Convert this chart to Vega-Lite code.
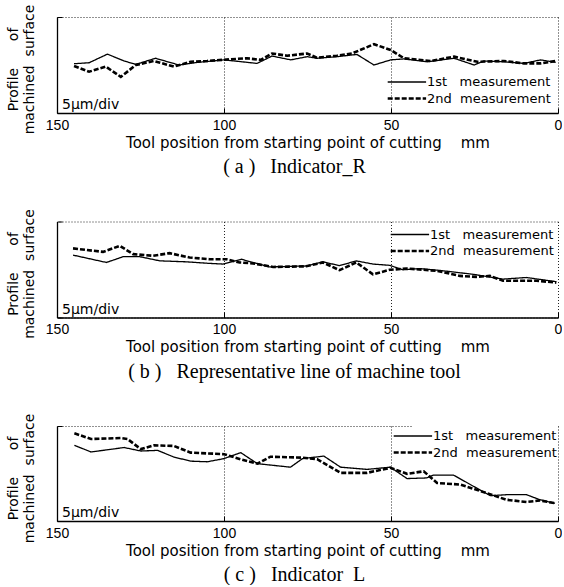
{
  "$schema": "https://vega.github.io/schema/vega-lite/v6.json",
  "padding": {"left": 6, "top": 4, "right": 0, "bottom": 0},
  "background": "white",
  "config": {
    "view": {"stroke": null},
    "font": "Liberation Sans",
    "axis": {
      "grid": true, "gridDash": [1, 2], "gridColor": "#222", "gridWidth": 1,
      "domainColor": "black", "domainWidth": 1.3, "tickColor": "black", "tickSize": -5,
      "labelFont": "Liberation Sans", "labelFontSize": 14, "labelColor": "black", "labelFlush": false,
      "titleFont": "DejaVu Sans", "titleFontSize": 14,
      "titleFontWeight": "normal", "titleColor": "black"
    },
    "legend": {
      "title": null, "fillColor": "white", "labelFont": "DejaVu Sans", "labelFontSize": 13, "labelColor": "black",
      "symbolStrokeColor": "black", "rowPadding": -2, "padding": 1, "labelOffset": 1
    },
    "title": {"font": "Liberation Serif", "fontSize": 20, "fontWeight": "normal", "color": "black", "orient": "bottom", "frame": "group", "anchor": "middle", "offset": 7, "dx": -13}
  },
  "datasets": {
    "a": [
      {"s": "1st\u00a0\u00a0\u00a0measurement", "x": 144.9, "y": 15.4},
      {"s": "1st\u00a0\u00a0\u00a0measurement", "x": 140.4, "y": 15.7},
      {"s": "1st\u00a0\u00a0\u00a0measurement", "x": 134.9, "y": 18.4},
      {"s": "1st\u00a0\u00a0\u00a0measurement", "x": 129.9, "y": 16.25},
      {"s": "1st\u00a0\u00a0\u00a0measurement", "x": 126.4, "y": 15.2},
      {"s": "1st\u00a0\u00a0\u00a0measurement", "x": 120.5, "y": 17.1},
      {"s": "1st\u00a0\u00a0\u00a0measurement", "x": 113.5, "y": 15},
      {"s": "1st\u00a0\u00a0\u00a0measurement", "x": 108, "y": 15.8},
      {"s": "1st\u00a0\u00a0\u00a0measurement", "x": 100, "y": 16.6},
      {"s": "1st\u00a0\u00a0\u00a0measurement", "x": 90.1, "y": 15.5},
      {"s": "1st\u00a0\u00a0\u00a0measurement", "x": 85.6, "y": 17.8},
      {"s": "1st\u00a0\u00a0\u00a0measurement", "x": 80, "y": 16.6},
      {"s": "1st\u00a0\u00a0\u00a0measurement", "x": 75.1, "y": 17.6},
      {"s": "1st\u00a0\u00a0\u00a0measurement", "x": 72.2, "y": 17.1},
      {"s": "1st\u00a0\u00a0\u00a0measurement", "x": 66.2, "y": 17.6},
      {"s": "1st\u00a0\u00a0\u00a0measurement", "x": 60.2, "y": 18.3},
      {"s": "1st\u00a0\u00a0\u00a0measurement", "x": 55.1, "y": 15},
      {"s": "1st\u00a0\u00a0\u00a0measurement", "x": 50.1, "y": 16.6},
      {"s": "1st\u00a0\u00a0\u00a0measurement", "x": 46.1, "y": 16.9},
      {"s": "1st\u00a0\u00a0\u00a0measurement", "x": 39.2, "y": 16},
      {"s": "1st\u00a0\u00a0\u00a0measurement", "x": 31.1, "y": 17.1},
      {"s": "1st\u00a0\u00a0\u00a0measurement", "x": 25.1, "y": 15},
      {"s": "1st\u00a0\u00a0\u00a0measurement", "x": 22.2, "y": 16.25},
      {"s": "1st\u00a0\u00a0\u00a0measurement", "x": 16.2, "y": 16},
      {"s": "1st\u00a0\u00a0\u00a0measurement", "x": 10.2, "y": 15.5},
      {"s": "1st\u00a0\u00a0\u00a0measurement", "x": 5.2, "y": 16.6},
      {"s": "1st\u00a0\u00a0\u00a0measurement", "x": 0.7, "y": 15.8},
      {"s": "2nd\u00a0\u00a0measurement", "x": 144.9, "y": 14.7},
      {"s": "2nd\u00a0\u00a0measurement", "x": 140.4, "y": 12.9},
      {"s": "2nd\u00a0\u00a0measurement", "x": 135.4, "y": 14.5},
      {"s": "2nd\u00a0\u00a0measurement", "x": 130.9, "y": 11.3},
      {"s": "2nd\u00a0\u00a0measurement", "x": 126.4, "y": 15},
      {"s": "2nd\u00a0\u00a0measurement", "x": 121, "y": 16.25},
      {"s": "2nd\u00a0\u00a0measurement", "x": 115, "y": 14.5},
      {"s": "2nd\u00a0\u00a0measurement", "x": 110, "y": 16},
      {"s": "2nd\u00a0\u00a0measurement", "x": 105.1, "y": 16.25},
      {"s": "2nd\u00a0\u00a0measurement", "x": 98, "y": 16.8},
      {"s": "2nd\u00a0\u00a0measurement", "x": 93.1, "y": 17.1},
      {"s": "2nd\u00a0\u00a0measurement", "x": 89, "y": 16.6},
      {"s": "2nd\u00a0\u00a0measurement", "x": 85.6, "y": 18.6},
      {"s": "2nd\u00a0\u00a0measurement", "x": 81.1, "y": 17.9},
      {"s": "2nd\u00a0\u00a0measurement", "x": 75.1, "y": 18.6},
      {"s": "2nd\u00a0\u00a0measurement", "x": 72.2, "y": 17.3},
      {"s": "2nd\u00a0\u00a0measurement", "x": 66.2, "y": 17.9},
      {"s": "2nd\u00a0\u00a0measurement", "x": 61.7, "y": 18.6},
      {"s": "2nd\u00a0\u00a0measurement", "x": 55.1, "y": 21.5},
      {"s": "2nd\u00a0\u00a0measurement", "x": 50.1, "y": 19.7},
      {"s": "2nd\u00a0\u00a0measurement", "x": 46.1, "y": 17.1},
      {"s": "2nd\u00a0\u00a0measurement", "x": 38.1, "y": 16.25},
      {"s": "2nd\u00a0\u00a0measurement", "x": 31.1, "y": 17.6},
      {"s": "2nd\u00a0\u00a0measurement", "x": 24.1, "y": 16},
      {"s": "2nd\u00a0\u00a0measurement", "x": 16.2, "y": 16.25},
      {"s": "2nd\u00a0\u00a0measurement", "x": 10.2, "y": 15.5},
      {"s": "2nd\u00a0\u00a0measurement", "x": 5.2, "y": 15.5},
      {"s": "2nd\u00a0\u00a0measurement", "x": 0.7, "y": 16.25}
    ],
    "b": [
      {"s": "1st\u00a0\u00a0\u00a0measurement", "x": 145.2, "y": 19.5},
      {"s": "1st\u00a0\u00a0\u00a0measurement", "x": 135.2, "y": 17.2},
      {"s": "1st\u00a0\u00a0\u00a0measurement", "x": 130.2, "y": 19},
      {"s": "1st\u00a0\u00a0\u00a0measurement", "x": 125.2, "y": 19},
      {"s": "1st\u00a0\u00a0\u00a0measurement", "x": 119.2, "y": 17.7},
      {"s": "1st\u00a0\u00a0\u00a0measurement", "x": 111.3, "y": 17.4},
      {"s": "1st\u00a0\u00a0\u00a0measurement", "x": 104.3, "y": 16.9},
      {"s": "1st\u00a0\u00a0\u00a0measurement", "x": 100.3, "y": 16.7},
      {"s": "1st\u00a0\u00a0\u00a0measurement", "x": 94.8, "y": 18.2},
      {"s": "1st\u00a0\u00a0\u00a0measurement", "x": 90.3, "y": 16.9},
      {"s": "1st\u00a0\u00a0\u00a0measurement", "x": 86.3, "y": 15.8},
      {"s": "1st\u00a0\u00a0\u00a0measurement", "x": 75.4, "y": 16.1},
      {"s": "1st\u00a0\u00a0\u00a0measurement", "x": 70.4, "y": 17.4},
      {"s": "1st\u00a0\u00a0\u00a0measurement", "x": 65.4, "y": 16.2},
      {"s": "1st\u00a0\u00a0\u00a0measurement", "x": 60.4, "y": 17.7},
      {"s": "1st\u00a0\u00a0\u00a0measurement", "x": 55.4, "y": 16.7},
      {"s": "1st\u00a0\u00a0\u00a0measurement", "x": 50.4, "y": 16.3},
      {"s": "1st\u00a0\u00a0\u00a0measurement", "x": 46.4, "y": 14.9},
      {"s": "1st\u00a0\u00a0\u00a0measurement", "x": 41.4, "y": 15.3},
      {"s": "1st\u00a0\u00a0\u00a0measurement", "x": 34.4, "y": 14.6},
      {"s": "1st\u00a0\u00a0\u00a0measurement", "x": 25.4, "y": 13.5},
      {"s": "1st\u00a0\u00a0\u00a0measurement", "x": 16.5, "y": 12},
      {"s": "1st\u00a0\u00a0\u00a0measurement", "x": 9.5, "y": 12.5},
      {"s": "1st\u00a0\u00a0\u00a0measurement", "x": 0.5, "y": 11.2},
      {"s": "2nd\u00a0\u00a0measurement", "x": 145.2, "y": 21.6},
      {"s": "2nd\u00a0\u00a0measurement", "x": 136.2, "y": 20.5},
      {"s": "2nd\u00a0\u00a0measurement", "x": 131.2, "y": 22.4},
      {"s": "2nd\u00a0\u00a0measurement", "x": 127.2, "y": 19.8},
      {"s": "2nd\u00a0\u00a0measurement", "x": 121.3, "y": 19.3},
      {"s": "2nd\u00a0\u00a0measurement", "x": 116.3, "y": 20.1},
      {"s": "2nd\u00a0\u00a0measurement", "x": 110.3, "y": 18.75},
      {"s": "2nd\u00a0\u00a0measurement", "x": 104.3, "y": 18.2},
      {"s": "2nd\u00a0\u00a0measurement", "x": 99.3, "y": 18.2},
      {"s": "2nd\u00a0\u00a0measurement", "x": 95.3, "y": 17.2},
      {"s": "2nd\u00a0\u00a0measurement", "x": 91.3, "y": 16.9},
      {"s": "2nd\u00a0\u00a0measurement", "x": 85.3, "y": 15.8},
      {"s": "2nd\u00a0\u00a0measurement", "x": 75.4, "y": 16},
      {"s": "2nd\u00a0\u00a0measurement", "x": 70.4, "y": 17.2},
      {"s": "2nd\u00a0\u00a0measurement", "x": 65.4, "y": 14.8},
      {"s": "2nd\u00a0\u00a0measurement", "x": 60.4, "y": 17.2},
      {"s": "2nd\u00a0\u00a0measurement", "x": 55.4, "y": 13.5},
      {"s": "2nd\u00a0\u00a0measurement", "x": 50.4, "y": 14.9},
      {"s": "2nd\u00a0\u00a0measurement", "x": 45.4, "y": 15.3},
      {"s": "2nd\u00a0\u00a0measurement", "x": 36.4, "y": 14.6},
      {"s": "2nd\u00a0\u00a0measurement", "x": 29.4, "y": 13},
      {"s": "2nd\u00a0\u00a0measurement", "x": 24.4, "y": 12.7},
      {"s": "2nd\u00a0\u00a0measurement", "x": 20.4, "y": 13},
      {"s": "2nd\u00a0\u00a0measurement", "x": 16.5, "y": 11.5},
      {"s": "2nd\u00a0\u00a0measurement", "x": 6.5, "y": 11.5},
      {"s": "2nd\u00a0\u00a0measurement", "x": 0.5, "y": 10.9}
    ],
    "c": [
      {"s": "1st\u00a0\u00a0\u00a0measurement", "x": 144.8, "y": 23.9},
      {"s": "1st\u00a0\u00a0\u00a0measurement", "x": 139.8, "y": 21.8},
      {"s": "1st\u00a0\u00a0\u00a0measurement", "x": 129.9, "y": 23.2},
      {"s": "1st\u00a0\u00a0\u00a0measurement", "x": 124.9, "y": 22.1},
      {"s": "1st\u00a0\u00a0\u00a0measurement", "x": 119.9, "y": 22.3},
      {"s": "1st\u00a0\u00a0\u00a0measurement", "x": 115, "y": 20.2},
      {"s": "1st\u00a0\u00a0\u00a0measurement", "x": 110, "y": 18.9},
      {"s": "1st\u00a0\u00a0\u00a0measurement", "x": 105, "y": 18.7},
      {"s": "1st\u00a0\u00a0\u00a0measurement", "x": 100, "y": 19.7},
      {"s": "1st\u00a0\u00a0\u00a0measurement", "x": 95, "y": 21.6},
      {"s": "1st\u00a0\u00a0\u00a0measurement", "x": 90, "y": 18.1},
      {"s": "1st\u00a0\u00a0\u00a0measurement", "x": 80.1, "y": 17},
      {"s": "1st\u00a0\u00a0\u00a0measurement", "x": 76.5, "y": 19.7},
      {"s": "1st\u00a0\u00a0\u00a0measurement", "x": 70.1, "y": 20.5},
      {"s": "1st\u00a0\u00a0\u00a0measurement", "x": 65.1, "y": 17},
      {"s": "1st\u00a0\u00a0\u00a0measurement", "x": 57.2, "y": 16.3},
      {"s": "1st\u00a0\u00a0\u00a0measurement", "x": 50.2, "y": 17},
      {"s": "1st\u00a0\u00a0\u00a0measurement", "x": 45.2, "y": 13.4},
      {"s": "1st\u00a0\u00a0\u00a0measurement", "x": 39.3, "y": 13.6},
      {"s": "1st\u00a0\u00a0\u00a0measurement", "x": 37.3, "y": 14.5},
      {"s": "1st\u00a0\u00a0\u00a0measurement", "x": 31.3, "y": 14.5},
      {"s": "1st\u00a0\u00a0\u00a0measurement", "x": 20.3, "y": 8},
      {"s": "1st\u00a0\u00a0\u00a0measurement", "x": 15.4, "y": 8.3},
      {"s": "1st\u00a0\u00a0\u00a0measurement", "x": 9.4, "y": 8.3},
      {"s": "1st\u00a0\u00a0\u00a0measurement", "x": 5.4, "y": 6.7},
      {"s": "1st\u00a0\u00a0\u00a0measurement", "x": 0.9, "y": 5.6},
      {"s": "2nd\u00a0\u00a0measurement", "x": 144.8, "y": 27.7},
      {"s": "2nd\u00a0\u00a0measurement", "x": 139.8, "y": 25.9},
      {"s": "2nd\u00a0\u00a0measurement", "x": 130.9, "y": 26.2},
      {"s": "2nd\u00a0\u00a0measurement", "x": 128.9, "y": 25.9},
      {"s": "2nd\u00a0\u00a0measurement", "x": 124.9, "y": 22.7},
      {"s": "2nd\u00a0\u00a0measurement", "x": 120.9, "y": 23.9},
      {"s": "2nd\u00a0\u00a0measurement", "x": 115, "y": 23.7},
      {"s": "2nd\u00a0\u00a0measurement", "x": 110, "y": 21.6},
      {"s": "2nd\u00a0\u00a0measurement", "x": 100, "y": 21.1},
      {"s": "2nd\u00a0\u00a0measurement", "x": 95, "y": 19.5},
      {"s": "2nd\u00a0\u00a0measurement", "x": 90, "y": 18.1},
      {"s": "2nd\u00a0\u00a0measurement", "x": 86.1, "y": 20.3},
      {"s": "2nd\u00a0\u00a0measurement", "x": 76.5, "y": 20},
      {"s": "2nd\u00a0\u00a0measurement", "x": 72.1, "y": 19.5},
      {"s": "2nd\u00a0\u00a0measurement", "x": 65.1, "y": 15.2},
      {"s": "2nd\u00a0\u00a0measurement", "x": 57.2, "y": 15.2},
      {"s": "2nd\u00a0\u00a0measurement", "x": 50.2, "y": 16.8},
      {"s": "2nd\u00a0\u00a0measurement", "x": 45.2, "y": 14.9},
      {"s": "2nd\u00a0\u00a0measurement", "x": 40.2, "y": 15.7},
      {"s": "2nd\u00a0\u00a0measurement", "x": 36.2, "y": 12},
      {"s": "2nd\u00a0\u00a0measurement", "x": 29.3, "y": 11.5},
      {"s": "2nd\u00a0\u00a0measurement", "x": 21.3, "y": 8.8},
      {"s": "2nd\u00a0\u00a0measurement", "x": 15.4, "y": 6.7},
      {"s": "2nd\u00a0\u00a0measurement", "x": 9.4, "y": 6},
      {"s": "2nd\u00a0\u00a0measurement", "x": 5.4, "y": 6.5},
      {"s": "2nd\u00a0\u00a0measurement", "x": 0.9, "y": 5.6}
    ]
  },
  "spacing": 31.5,
  "resolve": {
    "scale": {"strokeDash": "independent", "strokeWidth": "independent"},
    "legend": {"strokeDash": "independent", "strokeWidth": "independent"}
  },
  "vconcat": [
    {
      "width": 501, "height": 96,
      "data": {"name": "a"},
      "title": {"text": "(\u00a0a\u00a0)\u00a0\u00a0\u00a0Indicator_R"},
      "layer": [
        {
          "mark": {"type": "line", "color": "black"},
          "encoding": {
            "x": {"field": "x", "type": "quantitative", "scale": {"domain": [0, 150], "reverse": true, "nice": false},
                  "axis": {"values": [0, 50, 100, 150], "title": "Tool position from starting point of cutting\u00a0\u00a0\u00a0\u00a0mm", "titleFontSize": 15, "labelPadding": 10, "titlePadding": 3}},
            "y": {"field": "y", "type": "quantitative", "scale": {"domain": [0, 30], "nice": false},
                  "axis": {"values": [0, 5, 10, 15, 20, 25, 30], "labels": false, "title": ["Profile\u00a0\u00a0\u00a0\u00a0\u00a0\u00a0of", "machined\u00a0\u00a0surface"], "titlePadding": 20, "titleLineHeight": 16, "titleY": 52}},
            "strokeDash": {"field": "s", "type": "nominal", "scale": {"range": [[1, 0], [5, 2]]}, "legend": {"orient": "bottom-right", "offset": 6, "symbolType": "M-3.6,0H1.2", "symbolSize": 256}},
            "strokeWidth": {"field": "s", "type": "nominal", "scale": {"range": [1.3, 2.6]}, "legend": {"orient": "bottom-right", "offset": 6, "symbolType": "M-3.6,0H1.2", "symbolSize": 256}}
          }
        },
        {
          "data": {"values": [{"label": "5μm/div"}]},
          "mark": {"type": "text", "align": "left", "baseline": "bottom", "font": "DejaVu Sans", "fontSize": 14, "dx": 5, "dy": -1, "color": "black"},
          "encoding": {"x": {"datum": 150, "type": "quantitative"}, "y": {"datum": 0, "type": "quantitative"}, "text": {"field": "label"}}
        }
      ]
    },
    {
      "width": 501, "height": 96,
      "data": {"name": "b"},
      "title": {"text": "(\u00a0b\u00a0)\u00a0\u00a0\u00a0Representative line of machine tool"},
      "layer": [
        {
          "mark": {"type": "line", "color": "black"},
          "encoding": {
            "x": {"field": "x", "type": "quantitative", "scale": {"domain": [0, 150], "reverse": true, "nice": false},
                  "axis": {"values": [0, 50, 100, 150], "title": "Tool position from starting point of cutting\u00a0\u00a0\u00a0\u00a0mm", "titleFontSize": 15, "labelPadding": 10, "titlePadding": 3}},
            "y": {"field": "y", "type": "quantitative", "scale": {"domain": [0, 30], "nice": false},
                  "axis": {"values": [0, 5, 10, 15, 20, 25, 30], "labels": false, "title": ["Profile\u00a0\u00a0\u00a0\u00a0\u00a0\u00a0of", "machined\u00a0\u00a0surface"], "titlePadding": 20, "titleLineHeight": 16, "titleY": 52}},
            "strokeDash": {"field": "s", "type": "nominal", "scale": {"range": [[1, 0], [5, 2]]}, "legend": {"orient": "top-right", "offset": 3, "symbolType": "M-3.6,0H1.2", "symbolSize": 256}},
            "strokeWidth": {"field": "s", "type": "nominal", "scale": {"range": [1.3, 2.6]}, "legend": {"orient": "top-right", "offset": 3, "symbolType": "M-3.6,0H1.2", "symbolSize": 256}}
          }
        },
        {
          "data": {"values": [{"label": "5μm/div"}]},
          "mark": {"type": "text", "align": "left", "baseline": "bottom", "font": "DejaVu Sans", "fontSize": 14, "dx": 5, "dy": -1, "color": "black"},
          "encoding": {"x": {"datum": 150, "type": "quantitative"}, "y": {"datum": 0, "type": "quantitative"}, "text": {"field": "label"}}
        }
      ]
    },
    {
      "width": 501, "height": 95,
      "data": {"name": "c"},
      "title": {"text": "(\u00a0c\u00a0)\u00a0\u00a0\u00a0Indicator\u00a0\u00a0L"},
      "layer": [
        {
          "mark": {"type": "line", "color": "black"},
          "encoding": {
            "x": {"field": "x", "type": "quantitative", "scale": {"domain": [0, 150], "reverse": true, "nice": false},
                  "axis": {"values": [0, 50, 100, 150], "title": "Tool position from starting point of cutting\u00a0\u00a0\u00a0\u00a0mm", "titleFontSize": 15, "labelPadding": 10, "titlePadding": 3}},
            "y": {"field": "y", "type": "quantitative", "scale": {"domain": [0, 30], "nice": false},
                  "axis": {"values": [0, 5, 10, 15, 20, 25, 30], "labels": false, "title": ["Profile\u00a0\u00a0\u00a0\u00a0\u00a0\u00a0of", "machined\u00a0\u00a0surface"], "titlePadding": 20, "titleLineHeight": 16, "titleY": 52}},
            "strokeDash": {"field": "s", "type": "nominal", "scale": {"range": [[1, 0], [5, 2]]}, "legend": {"orient": "top-right", "offset": 0, "symbolType": "M-3.6,0H1.2", "symbolSize": 256}},
            "strokeWidth": {"field": "s", "type": "nominal", "scale": {"range": [1.3, 2.6]}, "legend": {"orient": "top-right", "offset": 0, "symbolType": "M-3.6,0H1.2", "symbolSize": 256}}
          }
        },
        {
          "data": {"values": [{"label": "5μm/div"}]},
          "mark": {"type": "text", "align": "left", "baseline": "bottom", "font": "DejaVu Sans", "fontSize": 14, "dx": 5, "dy": -1, "color": "black"},
          "encoding": {"x": {"datum": 150, "type": "quantitative"}, "y": {"datum": 0, "type": "quantitative"}, "text": {"field": "label"}}
        }
      ]
    }
  ]
}
